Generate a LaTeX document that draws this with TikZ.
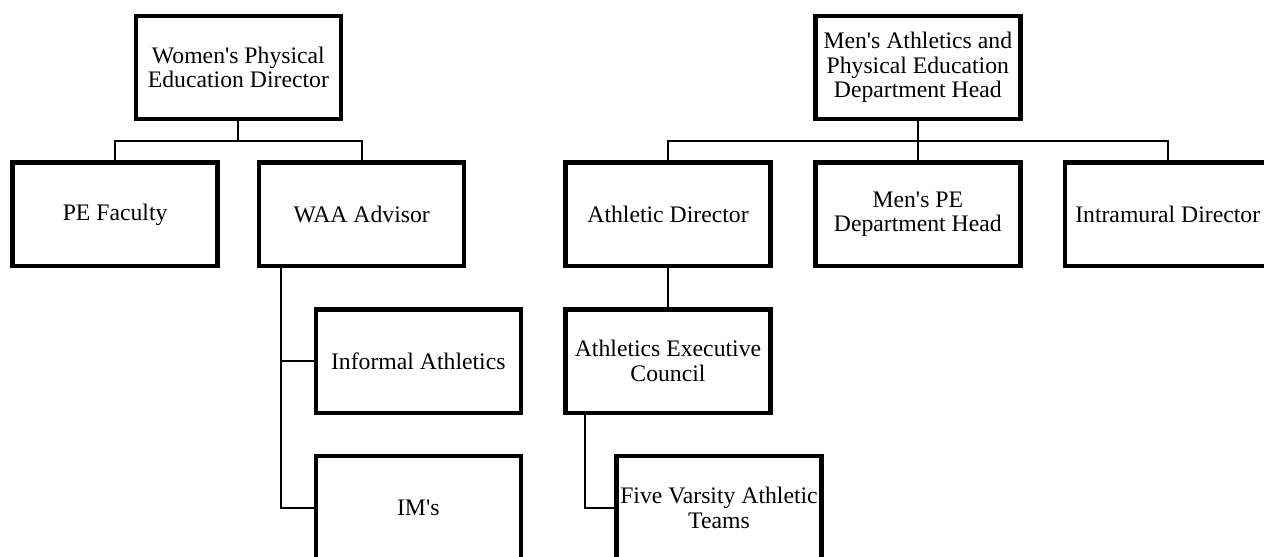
\documentclass[tikz,border=0pt]{standalone}
\usepackage{fontspec}
\setmainfont{Liberation Serif}[Ligatures=TeXOff]
\usepackage{tikz}

\begin{document}
\begin{tikzpicture}[x=0.5pt,y=0.5pt,
  box/.style={draw, line width=2.2pt, minimum width=102.5pt, minimum height=51.75pt,
    inner sep=0pt, align=center, font=\fontsize{11.85}{12.25}\selectfont},
  link/.style={line width=1pt}]
\useasboundingbox (0,-557) rectangle (1264,0);
\node[box] (WD) at (238.4,-67.5) {Women's Physical\\Education Director};
\node[box] (MH) at (917.8,-67.5) {Men's Athletics and\\Physical Education\\Department Head};
\node[box] (PEF) at (115.1,-214.4) {PE Faculty};
\node[box] (WAA) at (361.7,-214.4) {WAA Advisor};
\node[box] (AD) at (668,-214.4) {Athletic Director};
\node[box] (MPE) at (917.8,-214.4) {Men's PE\\Department Head};
\node[box] (ID) at (1167.7,-214.4) {Intramural Director};
\node[box] (IA) at (418.3,-361.1) {Informal Athletics};
\node[box] (AEC) at (668,-361.1) {Athletics Executive\\Council};
\node[box] (IMS) at (418.3,-507.9) {IM's};
\node[box] (FVT) at (719,-507.9) {Five Varsity Athletic\\Teams};
\draw [link] (WD.south) -- ++(0,-20) -| (PEF.north);
\draw [link] (WD.south) -- ++(0,-20) -| (WAA.north);
\draw [link] (MH.south) -- ++(0,-20) -| (AD.north);
\draw [link] (MH.south) -- (MPE.north);
\draw [link] (MH.south) -- ++(0,-20) -| (ID.north);
\draw [link] (WAA.south west) ++(24,0) |- (IA.west);
\draw [link] (WAA.south west) ++(24,0) |- (IMS.west);
\draw [link] (AD) -- (AEC);
\draw [link] (AEC.south west) ++(22,0) |- (FVT.west);
\end{tikzpicture}
\end{document}
